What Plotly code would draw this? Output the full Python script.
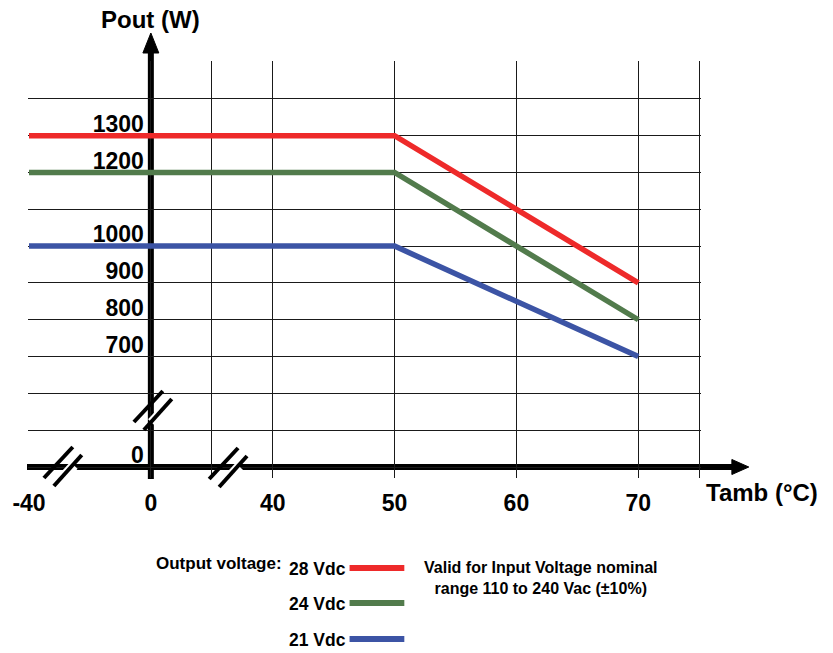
import plotly.graph_objects as go

# ---------------- data ----------------
temps = [-40, 50, 70]                      # ambient temperature (°C)
p_28 = [1300, 1300, 900]                   # Pout (W) @ 28 Vdc
p_24 = [1200, 1200, 800]                   # Pout (W) @ 24 Vdc
p_21 = [1000, 1000, 700]                   # Pout (W) @ 21 Vdc
series_names = ["28 Vdc", "24 Vdc", "21 Vdc"]
series_colors = ["#EE2A2A", "#527B4C", "#3C54A5"]

x_tick_temps = [-40, 0, 40, 50, 60, 70]
x_tick_labels = ["-40", "0", "40", "50", "60", "70"]
x_grid_temps = [-40, 0, 20, 40, 50, 60, 70, 75]

y_tick_power = [0, 700, 800, 900, 1000, 1200, 1300]
y_tick_labels = ["0", "700", "800", "900", "1000", "1200", "1300"]
y_grid_power = [0, 700 / 3, 1400 / 3, 700, 800, 900, 1000, 1100, 1200, 1300, 1400, 1500]

legend_title = "Output voltage:"
note_text = "Valid for Input Voltage nominal<br>range 110 to 240 Vac (±10%)"
x_title = "Tamb (°C)"
y_title = "Pout (W)"


# broken-axis scale: the library axis works on these positions
def tx(t):
    return t if t >= 40 else 30 + t / 4.0


def ty(p):
    return p if p >= 700 else 400 + p * 300.0 / 700.0


# ---------------- layout geometry ----------------
W, H = 833, 653
L, R, T, B = 25, 132, 61, 175
SX = 612 / 50.0
SY = 405 / 1100.0
X0 = tx(-40) - (26 - L) / SX
X1 = X0 + (W - L - R) / SX
Y1 = ty(0) + (467 - T) / SY
Y0 = Y1 - (H - T - B) / SY


def fx(px):
    return (px - L) / (W - L - R)


def fy(py):
    return (H - B - py) / (H - T - B)


def xpix(xv):
    return L + (xv - X0) * SX


def ypix(yv):
    return T + (Y1 - yv) * SY


FONT = "Liberation Sans, Arial, sans-serif"

fig = go.Figure()
for name, col, vals in zip(series_names, series_colors, [p_28, p_24, p_21]):
    fig.add_trace(go.Scatter(
        x=[tx(t) for t in temps], y=[ty(v) for v in vals],
        mode="lines", name=name, line=dict(color=col, width=5.5),
        showlegend=False, hoverinfo="skip"))
# carrier for the label axis
fig.add_trace(go.Scatter(x=[tx(0)], y=[ty(0)], yaxis="y2", mode="markers",
                         marker=dict(opacity=0), showlegend=False, hoverinfo="skip"))

shapes = []
ax_x = xpix(tx(0))   # pixel column of the y axis
ax_y = ypix(ty(0))   # pixel row of the x axis


def seg(x0, y0, x1, y1, w, color="black", layer="below"):
    shapes.append(dict(type="line", xref="paper", yref="paper",
                       x0=fx(x0), y0=fy(y0), x1=fx(x1), y1=fy(y1),
                       line=dict(color=color, width=w), layer=layer))


def tri(pts, layer="below"):
    path = "M " + " L ".join(f"{fx(a)},{fy(b)}" for a, b in pts) + " Z"
    shapes.append(dict(type="path", xref="paper", yref="paper", path=path,
                       fillcolor="black", line=dict(color="black", width=1), layer=layer))


# x axis with arrow
seg(L - 1, ax_y, 733, ax_y, 6)
tri([(732, ax_y - 7.5), (749, ax_y), (732, ax_y + 7.5)])
# y axis with arrow
seg(ax_x, 479, ax_x, 52, 6)
tri([(ax_x - 8, 53), (ax_x, 33), (ax_x + 8, 53)])


# break marks
def brk(cx, cy):
    d = (0.683, -0.730)
    seg(cx - 9 * d[0], cy - 9 * d[1], cx + 9 * d[0], cy + 9 * d[1], 10, color="white", layer="above")
    seg(cx - 24, cy + 6, cx + 5, cy - 25, 4, layer="above")
    seg(cx - 14, cy + 14, cx + 14, cy - 17, 4, layer="above")


brk(ax_x + 7, 416)
brk(65, ax_y + 5)
brk(231, ax_y + 6)

# legend lines
leg_rows = [568, 603, 639]
for col, yy in zip(series_colors, leg_rows):
    seg(348, yy, 403, yy, 6, color=col, layer="above")

ann = []


def text(px, py, s, size, xanchor="center", align="center", family=FONT):
    ann.append(dict(x=fx(px), y=fy(py), xref="paper", yref="paper", text=s,
                    showarrow=False, xanchor=xanchor, yanchor="middle", align=align,
                    font=dict(family=family, size=size, color="black", weight="bold")))


text(ax_x, 20, y_title, 24)
text(762, 492, x_title, 24)
text(152, 563, legend_title, 17, xanchor="left")
for nm, yy in zip(series_names, leg_rows):
    text(285, yy + 1, nm, 17.5, xanchor="left")
text(540, 578, note_text, 16)

tickfont = dict(family=FONT, size=23, color="black", weight="bold")
fig.update_layout(
    width=W, height=H, margin=dict(l=L, r=R, t=T, b=B, pad=0),
    paper_bgcolor="white", plot_bgcolor="white",
    shapes=shapes, annotations=ann,
    xaxis=dict(range=[X0, X1], tickvals=[tx(t) for t in x_grid_temps],
               ticktext=[x_tick_labels[x_tick_temps.index(t)] if t in x_tick_temps else "" for t in x_grid_temps],
               showgrid=True, gridcolor="#1a1a1a", gridwidth=1, zeroline=False, showline=False,
               ticks="", ticklabelstandoff=9, tickfont=tickfont, fixedrange=True),
    yaxis=dict(range=[Y0, Y1], tickvals=[ty(p) for p in y_grid_power], showticklabels=False,
               showgrid=True, gridcolor="#1a1a1a", gridwidth=1, zeroline=False, showline=False,
               ticks="", fixedrange=True),
    yaxis2=dict(range=[Y0, Y1], overlaying="y", anchor="free", position=fx(ax_x), side="left",
                tickvals=[ty(p) for p in y_tick_power], ticktext=y_tick_labels,
                showgrid=False, zeroline=False, showline=False, ticks="",
                ticklabelshift=-12, ticklabelstandoff=7,
                tickfont=tickfont, fixedrange=True),
    showlegend=False,
)

fig.write_html("out.html", config={"displayModeBar": False},
               post_script="document.body.style.margin='0';document.body.style.overflow='hidden';")
